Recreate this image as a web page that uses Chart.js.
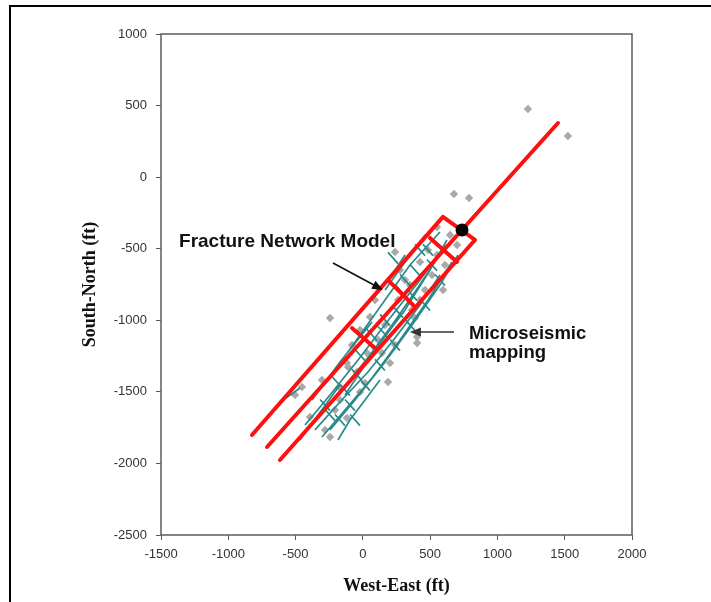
<!DOCTYPE html>
<html>
<head>
<meta charset="utf-8">
<script src="https://cdn.jsdelivr.net/npm/chart.js@4.4.1/dist/chart.umd.min.js"></script>
<style>
  html, body { margin: 0; padding: 0; background: #fff; }
  #wrap { position: relative; width: 711px; height: 602px; overflow: hidden; }
  #frame { position: absolute; left: 9px; top: 5px; width: 720px; height: 620px; border-left: 2px solid #000; border-top: 2px solid #000; pointer-events: none; }
  canvas { position: absolute; left: 0; top: 0; }
</style>
</head>
<body>
<div id="wrap">
  <canvas id="chart" width="711" height="602"></canvas>
  <div id="frame"></div>
</div>
<script>
// axis ticks (ft)
const xTicks = [-1500, -1000, -500, 0, 500, 1000, 1500, 2000];
const yTicks = [-2500, -2000, -1500, -1000, -500, 0, 500, 1000];

// fracture network model: three long parallel lines + cross pieces
const modelLines = [
  [[-824, -1801], [595, -278]],
  [[-712, -1885], [1450, 378]],
  [[-616, -1976], [833, -439]]
];
const modelCrosses = [
  [[595, -278], [833, -439]],
  [[499, -425], [700, -593]],
  [[202, -733], [373, -893]],
  [[-81, -1054], [90, -1194]]
];

// treatment well
const wellPoint = [[737, -369]];

// microseismic mapped fractures
const seismicPaths = [
  [[-304, -1815], [-133, -1627], [68, -1403], [276, -1138], [484, -858], [662, -593]],
  [[-244, -1766], [-58, -1557], [165, -1291], [350, -1054], [573, -753], [707, -544]],
  [[-430, -1732], [-244, -1522], [-36, -1277], [202, -984], [425, -719], [610, -474]],
  [[-467, -1836], [-333, -1662], [-170, -1452]],
  [[-133, -1522], [90, -1208], [313, -928], [499, -649], [625, -439]],
  [[-207, -1347], [-21, -1103], [165, -858], [350, -614], [573, -383]],
  [[-378, -1557], [-170, -1291], [68, -1012]],
  [[165, -788], [313, -593], [462, -404]],
  [[-593, -1557], [-467, -1473]],
  [[-356, -1766], [-170, -1571], [38, -1361], [239, -1124], [425, -893], [573, -684]],
  [[-96, -1417], [53, -1243], [217, -1033], [387, -802], [536, -593]],
  [[68, -858], [202, -705], [313, -544]],
  [[-185, -1836], [-96, -1697], [16, -1557], [127, -1417]]
];
const seismicCrosses = [
  [[-133, -1553], [-59, -1631]],
  [[-21, -1413], [53, -1491]],
  [[90, -1273], [164, -1351]],
  [[202, -1134], [276, -1212]],
  [[313, -994], [387, -1072]],
  [[425, -854], [499, -932]],
  [[536, -680], [610, -758]],
  [[239, -749], [313, -827]],
  [[128, -959], [202, -1037]],
  [[350, -610], [424, -688]],
  [[31, -1064], [105, -1142]],
  [[-58, -1204], [16, -1282]],
  [[-207, -1658], [-133, -1736]],
  [[-318, -1553], [-244, -1631]],
  [[187, -526], [261, -604]],
  [[447, -470], [521, -548]],
  [[-281, -1623], [-207, -1701]],
  [[-170, -1448], [-96, -1526]],
  [[-81, -1343], [-7, -1421]],
  [[16, -1134], [90, -1212]],
  [[113, -1043], [187, -1121]],
  [[224, -903], [298, -981]],
  [[328, -784], [402, -862]],
  [[477, -575], [551, -653]],
  [[388, -470], [462, -548]],
  [[276, -680], [350, -758]],
  [[-95, -1658], [-21, -1736]],
  [[-244, -1378], [-170, -1456]]
];

// microseismic events
const eventPoints = [
  [1227, 476], [1524, 287], [677, -118], [789, -146],
  [551, -348], [648, -404], [700, -474], [239, -523], [425, -593],
  [596, -788], [425, -858], [53, -977], [-244, -984], [402, -1117],
  [403, -1159], [31, -1229], [-118, -1298], [202, -1298], [-110, -1326],
  [187, -1431], [16, -1438], [-304, -1417], [-452, -1466], [-21, -1501],
  [-393, -1676], [-118, -1683], [-281, -1766], [-244, -1815],
  [313, -719], [514, -684], [365, -928], [261, -858], [165, -1033],
  [113, -1138], [239, -1173], [-44, -1361], [-170, -1557], [-207, -1627],
  [610, -614], [484, -509], [-504, -1522],
  [-21, -1068], [276, -649], [387, -984], [90, -858], [-81, -1173],
  [462, -788], [-170, -1473], [142, -1229], [350, -753], [551, -544]
];

// annotation anchors (data units)
const modelLabel = { text: 'Fracture Network Model', at: [-1366, -488] };
const modelArrow = [[-222, -600], [150, -788]];
const seismicLabel = { lines: ['Microseismic', 'mapping'], at: [789, -1131], step: [789, -1263] };
const seismicArrow = [[677, -1082], [350, -1082]];

function joinPaths(paths) {
  const out = [];
  paths.forEach((p, i) => {
    if (i) out.push({ x: null, y: null });
    p.forEach(([x, y]) => out.push({ x, y }));
  });
  return out;
}
const asPoints = list => list.map(([x, y]) => ({ x, y }));

function drawArrow(ctx, x1, y1, x2, y2, color) {
  const a = Math.atan2(y2 - y1, x2 - x1);
  const len = 11, half = 4.5;
  ctx.save();
  ctx.strokeStyle = color;
  ctx.fillStyle = color;
  ctx.lineWidth = 1.6;
  ctx.beginPath();
  ctx.moveTo(x1, y1);
  ctx.lineTo(x2 - Math.cos(a) * len * 0.8, y2 - Math.sin(a) * len * 0.8);
  ctx.stroke();
  ctx.beginPath();
  ctx.moveTo(x2, y2);
  ctx.lineTo(x2 - Math.cos(a) * len - Math.sin(a) * half, y2 - Math.sin(a) * len + Math.cos(a) * half);
  ctx.lineTo(x2 - Math.cos(a) * len + Math.sin(a) * half, y2 - Math.sin(a) * len - Math.cos(a) * half);
  ctx.closePath();
  ctx.fill();
  ctx.restore();
}

const frameAndNotes = {
  id: 'frameAndNotes',
  afterDatasetsDraw(chart) {
    const { ctx, chartArea: a, scales: { x, y } } = chart;
    ctx.save();
    ctx.strokeStyle = '#666';
    ctx.lineWidth = 1.6;
    ctx.strokeRect(a.left, a.top, a.right - a.left, a.bottom - a.top);

    const px = v => x.getPixelForValue(v);
    const py = v => y.getPixelForValue(v);

    ctx.fillStyle = '#111';
    ctx.textBaseline = 'alphabetic';
    ctx.textAlign = 'left';
    ctx.font = 'bold 19px "Liberation Sans", Arial, sans-serif';
    ctx.fillText(modelLabel.text, px(modelLabel.at[0]), py(modelLabel.at[1]));

    ctx.font = 'bold 18.5px "Liberation Sans", Arial, sans-serif';
    ctx.fillText(seismicLabel.lines[0], px(seismicLabel.at[0]), py(seismicLabel.at[1]));
    ctx.fillText(seismicLabel.lines[1], px(seismicLabel.step[0]), py(seismicLabel.step[1]));
    ctx.restore();

    drawArrow(ctx, px(modelArrow[0][0]), py(modelArrow[0][1]), px(modelArrow[1][0]), py(modelArrow[1][1]), '#111');
    drawArrow(ctx, px(seismicArrow[0][0]), py(seismicArrow[0][1]), px(seismicArrow[1][0]), py(seismicArrow[1][1]), '#333');
  }
};

const tickFont = { family: '"Liberation Sans", Arial, sans-serif', size: 13 };
const titleFont = { family: '"Liberation Serif", "Times New Roman", serif', size: 18, weight: 'bold' };

new Chart(document.getElementById('chart'), {
  type: 'scatter',
  data: {
    datasets: [
      {
        data: asPoints(wellPoint),
        backgroundColor: '#000',
        pointRadius: 6.5,
        pointBorderWidth: 0
      },
      {
        data: joinPaths(modelLines.concat(modelCrosses)),
        showLine: true,
        borderColor: '#ff1010',
        borderWidth: 4,
        borderCapStyle: 'round',
        pointRadius: 0
      },
      {
        data: joinPaths(seismicPaths.concat(seismicCrosses)),
        showLine: true,
        borderColor: '#2a8a8a',
        borderWidth: 1.7,
        pointRadius: 0
      },
      {
        data: asPoints(eventPoints),
        pointStyle: 'rectRot',
        backgroundColor: '#a9a9a9',
        pointRadius: 4.2,
        pointBorderWidth: 0
      }
    ]
  },
  options: {
    responsive: false,
    animation: false,
    events: [],
    layout: { padding: { left: 70, right: 79, top: 34, bottom: 5 } },
    plugins: { legend: { display: false }, tooltip: { enabled: false } },
    scales: {
      x: {
        type: 'linear',
        min: xTicks[0],
        max: xTicks[xTicks.length - 1],
        afterBuildTicks: s => { s.ticks = xTicks.map(v => ({ value: v })); },
        afterFit: s => { s.height = 62; },
        border: { display: false },
        grid: { drawOnChartArea: false, color: '#555', tickLength: 5 },
        ticks: { font: tickFont, color: '#333', padding: 7, maxRotation: 0, callback: v => String(v) },
        title: { display: true, text: 'West-East (ft)', font: titleFont, color: '#111', padding: { top: 0, bottom: 0 } }
      },
      y: {
        type: 'linear',
        min: yTicks[0],
        max: yTicks[yTicks.length - 1],
        afterBuildTicks: s => { s.ticks = yTicks.map(v => ({ value: v })); },
        afterFit: s => { s.width = 91; },
        border: { display: false },
        grid: { drawOnChartArea: false, color: '#555', tickLength: 5 },
        ticks: { font: tickFont, color: '#333', padding: 9, callback: v => String(v) },
        title: { display: true, text: 'South-North (ft)', font: titleFont, color: '#111', padding: { top: 10, bottom: 0 } }
      }
    }
  },
  plugins: [frameAndNotes]
});
</script>
</body>
</html>
